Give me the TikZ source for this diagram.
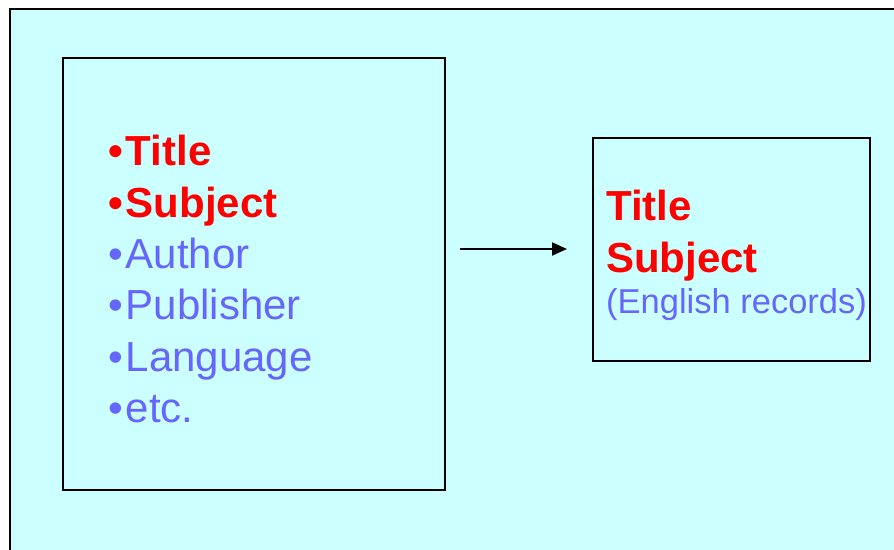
\documentclass[tikz,border=0pt]{standalone}
\usepackage{fontspec}
\setmainfont{Liberation Sans}
\usetikzlibrary{arrows.meta}
\definecolor{panelcyan}{RGB}{204,255,255}
\definecolor{softblue}{RGB}{102,102,255}
\definecolor{hotred}{RGB}{255,0,0}
\newcommand{\bul}{•\hspace{3pt}}
\tikzset{
  frame/.style={draw=black, line width=2pt},
  keyfield/.style={anchor=base west, inner sep=0pt, text=hotred, font=\fontsize{42}{50}\selectfont\bfseries},
  otherfield/.style={anchor=base west, inner sep=0pt, text=softblue, font=\fontsize{42}{50}\selectfont},
  note/.style={anchor=base west, inner sep=0pt, text=softblue, font=\fontsize{34.5}{40}\selectfont},
  flow/.style={draw=black, line width=2pt, -{Triangle[length=15pt,width=13pt]}}
}
\begin{document}
\begin{tikzpicture}[x=1pt, y=-1pt]
  \useasboundingbox (0,0) rectangle (894,549);
  \clip (0,0) rectangle (894,549);
  \fill[white] (0,0) rectangle (894,549);
  % slide panel
  \draw[frame, fill=panelcyan] (10,9) rectangle (905,560);
  % field list
  \node[frame, minimum width=382pt, minimum height=432pt, anchor=north west, inner sep=0pt] (fields) at (62,57) {};
  \node[keyfield] (f1) at (108,165) {\bul Title};
  \node[keyfield] (f2) at (108,217) {\bul Subject};
  \node[otherfield] (f3) at (108,268) {\bul Author};
  \node[otherfield] (f4) at (108,319) {\bul Publisher};
  \node[otherfield] (f5) at (108,371) {\bul Language};
  \node[otherfield] (f6) at (108,422) {\bul etc.};
  % result box
  \node[frame, minimum width=277pt, minimum height=223pt, anchor=north west, inner sep=0pt] (result) at (592,137) {};
  \node[keyfield] (r1) at (606,220) {Title};
  \node[keyfield] (r2) at (606,272) {Subject};
  \node[note] (r3) at (606,313) {(English records)};
  % arrow
  \coordinate (a0) at (460,249);
  \coordinate (a1) at (567,249);
  \draw[flow] (a0) -- (a1);
\end{tikzpicture}
\end{document}
